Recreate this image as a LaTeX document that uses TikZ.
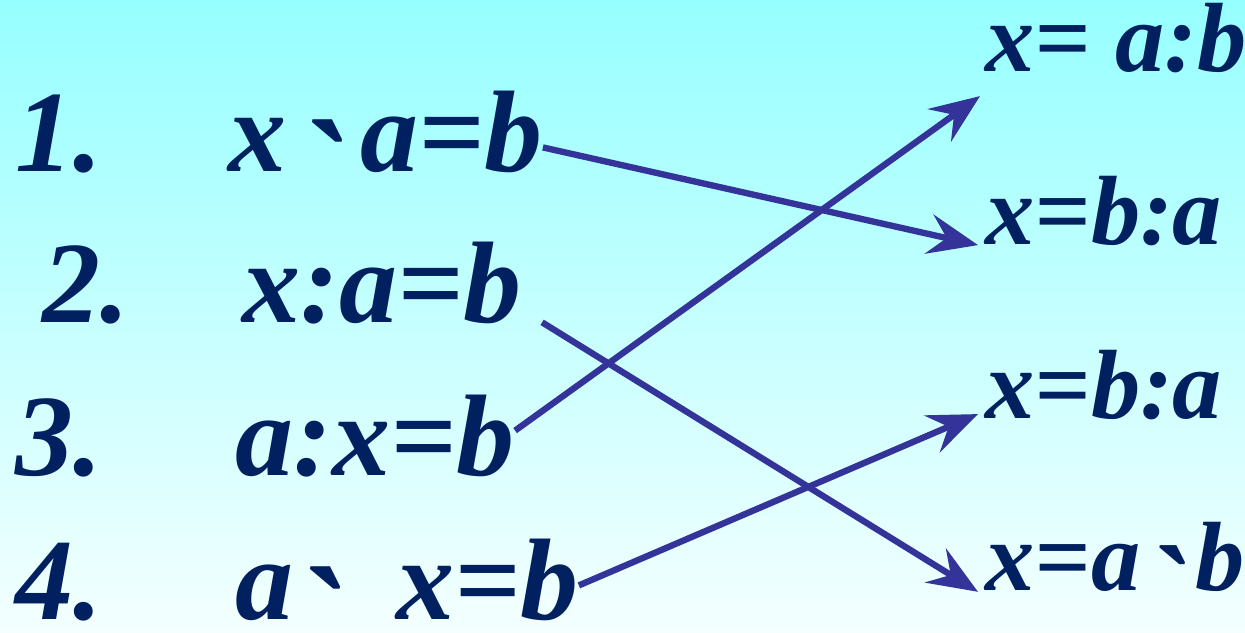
\documentclass[tikz,border=0pt]{standalone}
\usepackage{fontspec}
\setmainfont{Liberation Serif}
\usepackage{xcolor}
\usepackage{tikz}
\usetikzlibrary{arrows.meta}

\definecolor{navy}{RGB}{0,32,96}
\definecolor{arrowblue}{RGB}{51,51,153}
\definecolor{bgtop}{RGB}{150,255,255}
\definecolor{bgbot}{RGB}{244,255,255}
\newcommand{\mdot}{\raisebox{-0.45em}[0pt][0pt]{\scalebox{1.3}{ˋ}}}

\begin{document}
\begin{tikzpicture}[
   lhs/.style={anchor=base west,inner sep=0pt,text=navy,
               font=\fontsize{33}{40}\selectfont\bfseries\itshape},
   rhs/.style={anchor=base west,inner sep=0pt,text=navy,
               font=\fontsize{28}{34}\selectfont\bfseries\itshape},
   link/.style={draw=arrowblue,line width=1.8pt,
                -{Stealth[length=5mm,width=4mm,inset=1.8mm]}}]
  \useasboundingbox (0,0) rectangle (12.45,6.32);
  \fill[top color=bgtop,bottom color=bgbot] (0,0) rectangle (12.45,6.32);
  % left column
  \node[lhs] (n1) at (0.15,4.60) {1.};
  \node[lhs] (e1) at (2.28,4.60) {x\kern0.08em\mdot\kern0.12em a=b};
  \node[lhs] (n2) at (0.42,3.10) {2.};
  \node[lhs] (e2) at (2.42,3.10) {x:a=b};
  \node[lhs] (n3) at (0.15,1.57) {3.};
  \node[lhs] (e3) at (2.35,1.57) {a:x=b};
  \node[lhs] (n4) at (0.15,0.13) {4.};
  \node[lhs] (e4) at (2.35,0.13) {a\mdot\hspace{0.45em}x=b};
  % right column
  \node[rhs] (s1) at (9.85,5.60) {x= a:b};
  \node[rhs] (s2) at (9.85,3.87) {x=b:a};
  \node[rhs] (s3) at (9.85,2.14) {x=b:a};
  \node[rhs] (s4) at (9.85,0.42) {x=a\kern0.05em\mdot\kern0.08em b};
  \draw[link] ([yshift=-0.15cm]e1.east) -- ([xshift=-0.07cm,yshift=0.02cm]s2.south west);
  \draw[link] ([xshift=0.2cm,yshift=0.02cm]e2.south east) -- ([xshift=-0.07cm]s4.south west);
  \draw[link] ([yshift=0.05cm]e3.east) -- ([xshift=-0.05cm,yshift=-0.22cm]s1.south west);
  \draw[link] ([yshift=-0.06cm]e4.east) -- ([xshift=-0.07cm,yshift=0.06cm]s3.south west);
\end{tikzpicture}
\end{document}
